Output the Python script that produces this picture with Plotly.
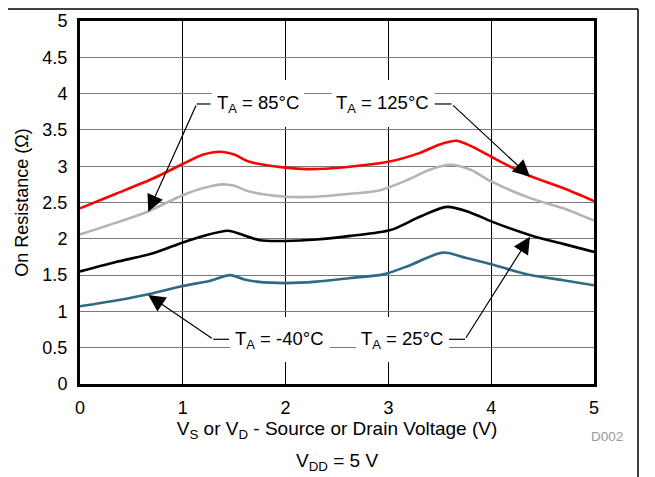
import plotly.graph_objects as go

# ---- data ----
x_125 = [0, 0.35, 0.71, 1.0, 1.2, 1.36, 1.5, 1.65, 2.0, 2.2, 2.6, 3.0, 3.3, 3.5, 3.66, 3.8, 4.0, 4.35, 4.7, 5.0]
r_125 = [2.42, 2.62, 2.83, 3.03, 3.16, 3.20, 3.16, 3.06, 2.98, 2.96, 2.99, 3.06, 3.18, 3.30, 3.35, 3.28, 3.13, 2.88, 2.70, 2.52]

x_85 = [0, 0.39, 0.65, 1.0, 1.2, 1.39, 1.5, 1.65, 2.0, 2.3, 2.63, 2.92, 3.2, 3.4, 3.6, 3.8, 4.0, 4.38, 4.7, 5.0]
r_85 = [2.06, 2.24, 2.37, 2.60, 2.70, 2.75, 2.73, 2.65, 2.58, 2.58, 2.62, 2.67, 2.82, 2.95, 3.02, 2.95, 2.79, 2.56, 2.42, 2.25]

x_25 = [0, 0.35, 0.71, 1.0, 1.2, 1.44, 1.55, 1.75, 2.0, 2.3, 2.63, 3.02, 3.3, 3.57, 3.8, 4.0, 4.38, 4.7, 5.0]
r_25 = [1.55, 1.68, 1.80, 1.95, 2.04, 2.11, 2.07, 1.98, 1.97, 1.99, 2.04, 2.12, 2.30, 2.44, 2.36, 2.24, 2.05, 1.93, 1.82]

x_m40 = [0, 0.35, 0.71, 1.0, 1.26, 1.46, 1.6, 1.72, 2.0, 2.3, 2.63, 2.95, 3.2, 3.53, 3.75, 4.0, 4.38, 4.7, 5.0]
r_m40 = [1.07, 1.15, 1.25, 1.35, 1.42, 1.50, 1.44, 1.41, 1.39, 1.41, 1.46, 1.51, 1.63, 1.81, 1.74, 1.65, 1.50, 1.43, 1.36]

x_ticks = [0, 1, 2, 3, 4, 5]
y_ticks = [0, 0.5, 1, 1.5, 2, 2.5, 3, 3.5, 4, 4.5, 5]
y_tick_text = ["0", "0.5", "1", "1.5", "2", "2.5", "3", "3.5", "4", "4.5", "5"]

FONT = "Arial, Liberation Sans, sans-serif"

fig = go.Figure()
series = [
    (x_125, r_125, "#FF0000", "T<sub>A</sub> = 125°C"),
    (x_85, r_85, "#B4B4B4", "T<sub>A</sub> = 85°C"),
    (x_25, r_25, "#000000", "T<sub>A</sub> = 25°C"),
    (x_m40, r_m40, "#2F6A84", "T<sub>A</sub> = -40°C"),
]
for xs, ys, col, name in series:
    fig.add_trace(go.Scatter(x=xs, y=ys, mode="lines", name=name,
                             line=dict(color=col, width=2.6, shape="spline", smoothing=0.8),
                             hoverinfo="skip"))

# white label boxes (hide gridlines behind the labels)
boxes = [(1.281, 2.179, 3.54, 4.187), (2.448, 3.453, 3.54, 4.187),
         (1.459, 2.432, 0.303, 0.923), (2.685, 3.592, 0.303, 0.923)]
for x0, x1, y0, y1 in boxes:
    fig.add_shape(type="rect", xref="x", yref="y", x0=x0, x1=x1, y0=y0, y1=y1,
                  fillcolor="white", line=dict(width=0), layer="between")

# label texts
labels = [("T<sub>A</sub> = 85°C", 1.732, 3.857), ("T<sub>A</sub> = 125°C", 2.947, 3.857),
          ("T<sub>A</sub> = -40°C", 1.941, 0.606), ("T<sub>A</sub> = 25°C", 3.132, 0.606)]
for t, lx, ly in labels:
    fig.add_annotation(x=lx, y=ly, xref="x", yref="y", text=t, showarrow=False,
                       font=dict(family=FONT, size=18.5, color="black"))

# horizontal leader segments
segs = [(1.135, 1.27, 3.857), (3.45, 3.615, 3.857), (1.297, 1.45, 0.616), (3.59, 3.745, 0.616)]
for x0, x1, yy in segs:
    fig.add_shape(type="line", xref="x", yref="y", x0=x0, x1=x1, y0=yy, y1=yy,
                  line=dict(color="black", width=1.2), layer="above")

# arrows
arrows = [(0.664, 2.373, 1.135, 3.857), (4.377, 2.855, 3.615, 3.857),
          (0.664, 1.226, 1.297, 0.616), (4.377, 2.029, 3.745, 0.616)]
for tx, ty, sx, sy in arrows:
    fig.add_annotation(x=tx, y=ty, ax=sx, ay=sy, xref="x", yref="y", axref="x", ayref="y",
                       text="", showarrow=True, arrowhead=2, arrowsize=2.8, arrowwidth=1.2,
                       arrowcolor="black", standoff=0)

# outer frame (top and right edges)
fig.add_shape(type="line", xref="paper", yref="paper", x0=-0.3, x1=1.0856, y0=1.033, y1=1.033,
              line=dict(color="black", width=1.5), layer="above")
fig.add_shape(type="line", xref="paper", yref="paper", x0=1.0856, x1=1.0856, y0=-0.5, y1=1.033,
              line=dict(color="black", width=1.5), layer="above")

# extra texts
fig.add_annotation(x=0.5, y=-0.215, xref="paper", yref="paper", xanchor="center", yanchor="middle",
                   text="V<sub>DD</sub> = 5 V", showarrow=False,
                   font=dict(family=FONT, size=19, color="black"))
fig.add_annotation(x=1.026, y=-0.146, xref="paper", yref="paper", xanchor="center", yanchor="middle",
                   text="D002", showarrow=False,
                   font=dict(family=FONT, size=13.5, color="#9a9a9a"))

# the page has an 8px body margin, so the figure is sized/margined to compensate
fig.update_layout(
    width=647, height=469,
    margin=dict(l=72, r=61, t=13, b=93, autoexpand=False),
    paper_bgcolor="white", plot_bgcolor="white",
    showlegend=False,
    font=dict(family=FONT, size=18, color="black"),
    xaxis=dict(range=[0, 5], tickvals=x_ticks, showgrid=True, gridcolor="#000000", gridwidth=1,
               showline=True, linecolor="black", linewidth=3, mirror=True, zeroline=False,
               automargin=False,
               ticks="", ticklabelstandoff=5, tickfont=dict(family=FONT, size=18),
               title=dict(text="V<sub>S</sub> or V<sub>D</sub> - Source or Drain Voltage (V)",
                          font=dict(family=FONT, size=19), standoff=2)),
    yaxis=dict(range=[0, 5], tickvals=y_ticks, ticktext=y_tick_text, showgrid=True,
               gridcolor="#7a7a7a", gridwidth=1.3,
               showline=True, linecolor="black", linewidth=3, mirror=True, zeroline=False,
               automargin=False,
               ticks="", ticklabelstandoff=6, tickfont=dict(family=FONT, size=18),
               title=dict(text="On Resistance (Ω)", font=dict(family=FONT, size=18), standoff=10)),
)

fig.write_html("out.html")
